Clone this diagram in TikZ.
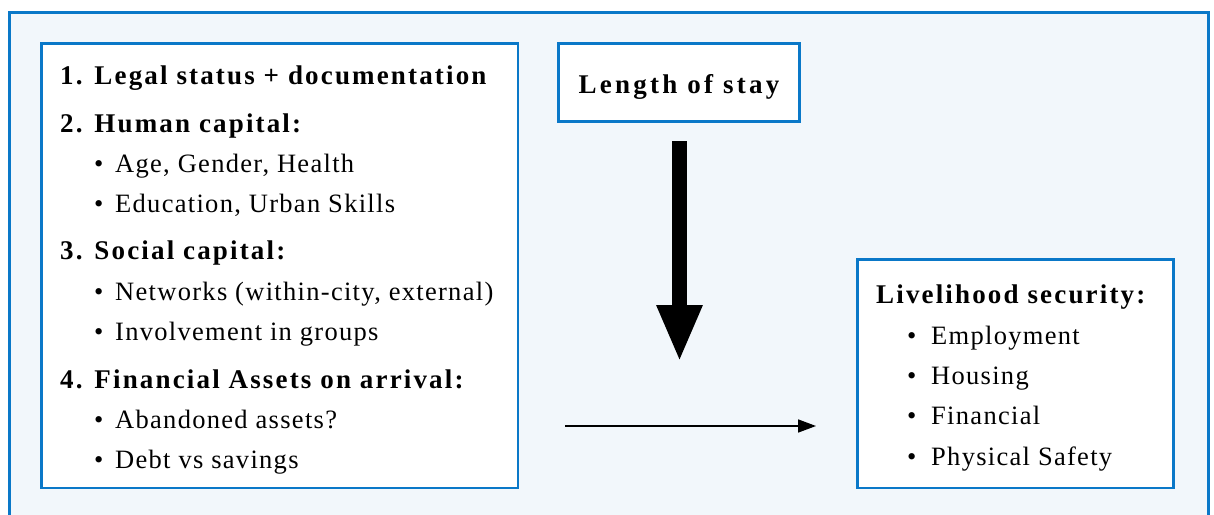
\documentclass[tikz,border=0pt]{standalone}
\usepackage{fontspec}
\setmainfont{Liberation Serif}
\newfontfamily\bodyfont[LetterSpace=4.9]{Liberation Serif}
\newfontfamily\headfont[LetterSpace=8]{Liberation Serif}
\newfontfamily\stayfont[LetterSpace=12]{Liberation Serif}
\usetikzlibrary{arrows.meta}
\definecolor{frameblue}{HTML}{0A78C8}
\definecolor{panelbg}{HTML}{F2F7FB}
\tikzset{
  panel/.style={draw=frameblue, line width=2.5pt, fill=white},
  head/.style={anchor=base west, inner sep=0pt, font=\headfont\bfseries\fontsize{27}{30}\selectfont},
  item/.style={anchor=base west, inner sep=0pt, font=\bodyfont\fontsize{26.5}{30}\selectfont},
}
\newcommand{\bul}[1]{\makebox[#1][l]{\textbullet}}
\begin{document}
\begin{tikzpicture}[x=1pt,y=-1pt]
\useasboundingbox (0,0) rectangle (1214,514);
\fill[panelbg] (9.5,12.5) rectangle (1208.5,530);
\draw[frameblue, line width=3pt] (9.5,530) -- (9.5,12.5) -- (1208.5,12.5) -- (1208.5,530);
% boxes
\draw[panel] (41.5,43.5) rectangle (518,488);
\draw[panel] (558.5,43.5) rectangle (799.5,121.5);
\draw[panel] (857.5,259.5) rectangle (1173.5,488);
% left text
\node[head] (l1) at (60,84) {1. Legal status + documentation};
\node[head] (l2) at (60,132) {2. Human capital:};
\node[item] (l3) at (94,172) {\bul{21pt}Age, Gender, Health};
\node[item] (l4) at (94,212) {\bul{21pt}Education, Urban Skills};
\node[head] (l5) at (60,259) {3. Social capital:};
\node[item] (l6) at (94,300) {\bul{21pt}Networks (within-city, external)};
\node[item] (l7) at (94,340) {\bul{21pt}Involvement in groups};
\node[head] (l8) at (60,388) {4. Financial Assets on arrival:};
\node[item] (l9) at (94,428) {\bul{21pt}Abandoned assets?};
\node[item] (l10) at (94,468) {\bul{21pt}Debt vs savings};
% top box
\node[head, anchor=base, font=\stayfont\bfseries\fontsize{27}{30}\selectfont] (stay) at (679,93) {Length of stay};
% right text
\node[head] (r1) at (876,303) {Livelihood security:};
\node[item] (r2) at (907,344) {\bul{24pt}Employment};
\node[item] (r3) at (907,384) {\bul{24pt}Housing};
\node[item] (r4) at (907,424) {\bul{24pt}Financial};
\node[item] (r5) at (907,465) {\bul{24pt}Physical Safety};
% arrows
\coordinate (tA) at (679.5,141);
\coordinate (tB) at (679.5,362);
\draw[line width=15pt, -{Triangle[width=42pt,length=57pt]}] (tA) -- (tB);
\coordinate (hA) at (565,426);
\coordinate (hB) at (816,426);
\draw[line width=1.6pt, -{Triangle[width=13pt,length=18pt]}] (hA) -- (hB);
\end{tikzpicture}
\end{document}
